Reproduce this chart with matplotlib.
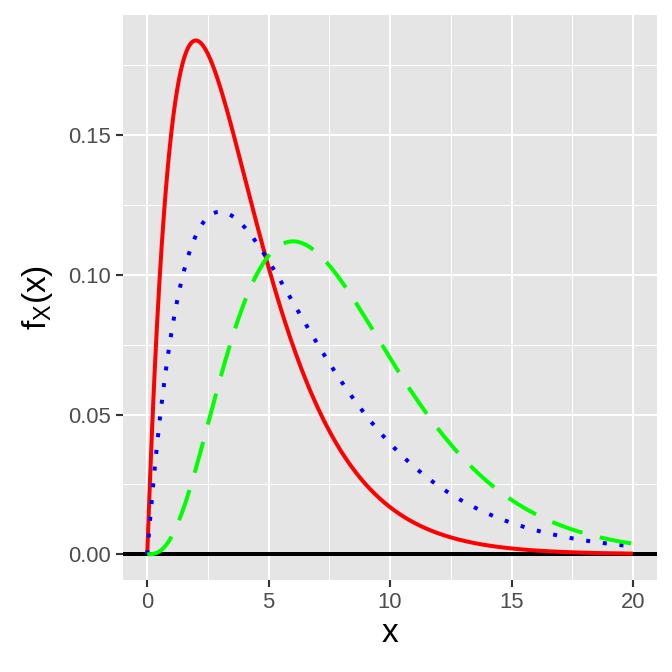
import numpy as np
import matplotlib
matplotlib.use("Agg")
import matplotlib.pyplot as plt
from math import gamma as gamma_fn

# Gamma density parameters (modes and peak heights)
shapes = [2, 2, 4]
scales = [2, 3, 2]
colors = ["#FF0000", "#0000FF", "#00FF00"]
x_range = [0, 20]
xticks = [0, 5, 10, 15, 20]
yticks = [0.00, 0.05, 0.10, 0.15]
ytick_labels = ["0.00", "0.05", "0.10", "0.15"]

plt.rcParams['font.family'] = ['Liberation Sans', 'DejaVu Sans']

fig = plt.figure(figsize=(7, 7), dpi=96)
ax = fig.add_axes([0.183, 0.137, 0.795, 0.841])
ax.set_facecolor("#E5E5E5")

x = np.linspace(x_range[0], x_range[1], 801)
def pdf(x, k, th):
    return x ** (k - 1) * np.exp(-x / th) / (gamma_fn(k) * th ** k)

ys = [pdf(x, k, th) for k, th in zip(shapes, scales)]

ax.axhline(0, color="black", lw=3, zorder=3)
ax.plot(x, ys[0], color=colors[0], lw=3, solid_capstyle="butt", zorder=4)
ax.plot(x, ys[1], color=colors[1], lw=3, linestyle=(0, (1, 3.2)), dash_capstyle="butt", zorder=4)
ax.plot(x, ys[2], color=colors[2], lw=3, linestyle=(0, (8, 4.5)), dash_capstyle="butt", zorder=4)

ymax = max(y.max() for y in ys)
xpad = (x_range[1] - x_range[0]) * 0.05
ypad = ymax * 0.05
ax.set_xlim(x_range[0] - xpad, x_range[1] + xpad)
ax.set_ylim(-ypad, ymax + ypad)

ax.set_xticks(xticks)
ax.set_yticks(yticks)
ax.set_yticklabels(ytick_labels)
ax.set_xticks([2.5, 7.5, 12.5, 17.5], minor=True)
ax.set_yticks([0.025, 0.075, 0.125, 0.175], minor=True)
ax.grid(which="major", color="white", lw=1.5, zorder=0)
ax.grid(which="minor", color="white", lw=0.75, zorder=0)
ax.set_axisbelow(True)
for s in ax.spines.values():
    s.set_visible(False)
ax.tick_params(which="major", length=5.5, width=1.6, color="#333333",
               labelsize=16.5, labelcolor="#4D4D4D", pad=3.5)
ax.tick_params(which="minor", length=0)

ax.set_xlabel("x", fontsize=25, labelpad=4)
ax.set_ylabel(r"$\mathregular{f_X(x)}$", fontsize=25, labelpad=10)

fig.savefig("out.png", dpi=96)
